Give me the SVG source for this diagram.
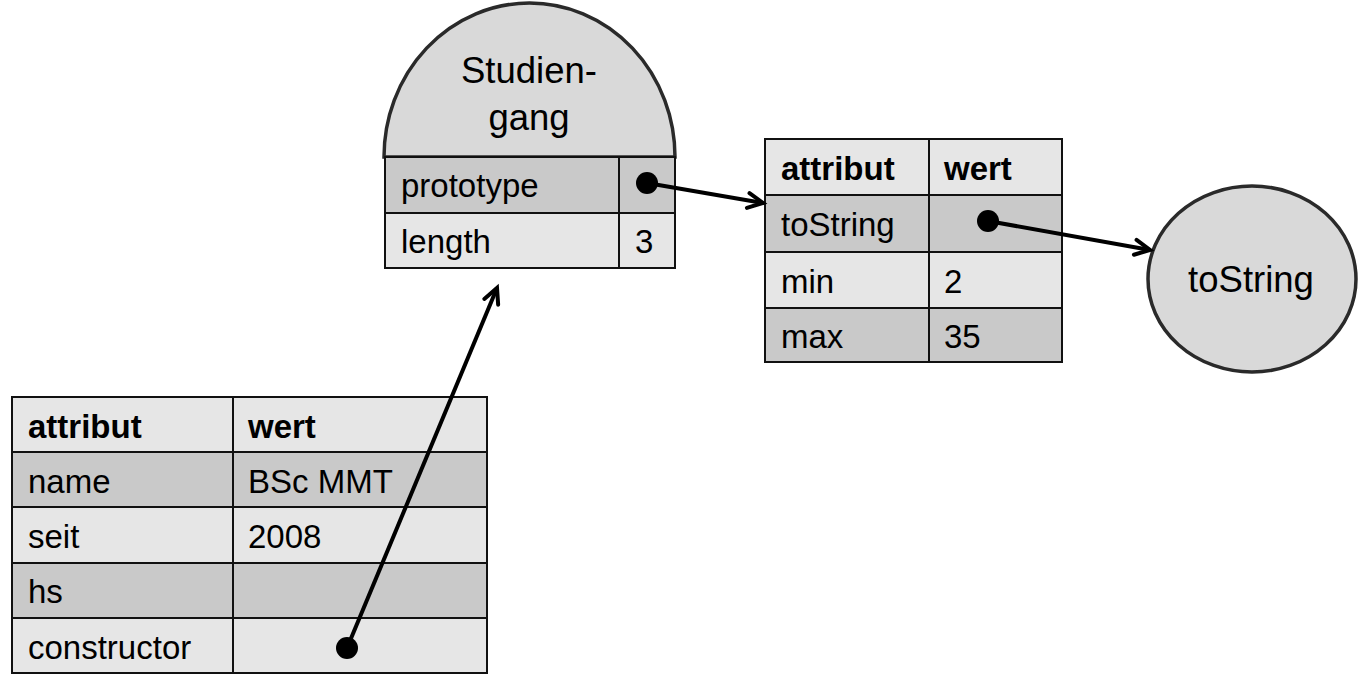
<svg xmlns="http://www.w3.org/2000/svg" width="1359" height="685" viewBox="0 0 1359 685">
<defs>
<style>
.t{font-family:"Liberation Sans",Arial,sans-serif;font-size:33px;fill:#000}
.b{font-weight:bold}
.big{font-family:"Liberation Sans",Arial,sans-serif;font-size:36.5px;fill:#000;text-anchor:middle}
.lt{fill:#e6e6e6;stroke:#111;stroke-width:2}
.dk{fill:#c9c9c9;stroke:#111;stroke-width:2}
.sh{fill:#d9d9d9;stroke:#2a2a2a;stroke-width:3.5}
.cn{stroke:#000;stroke-width:4;fill:none;marker-end:url(#arr)}
.dot{fill:#000}
</style>
<marker id="arr" markerUnits="userSpaceOnUse" markerWidth="30" markerHeight="30" refX="0" refY="0" viewBox="-20 -15 30 30" orient="auto" overflow="visible">
<path d="M-15,-7.5 L0,0 L-15,7.5" fill="none" stroke="#000" stroke-width="4" stroke-linecap="round" stroke-linejoin="miter"/>
</marker>
</defs>
<rect width="1359" height="685" fill="#fff"/>

<g id="studiengang">
<path class="sh" d="M384,157 A145.5,154 0 0 1 675,157 Z"/>
<text class="big" x="529" y="83">Studien-</text>
<text class="big" x="529" y="130">gang</text>
<rect class="dk" x="385" y="157" width="234" height="56"/>
<rect class="dk" x="619" y="157" width="56" height="56"/>
<rect class="lt" x="385" y="213" width="234" height="55"/>
<rect class="lt" x="619" y="213" width="56" height="55"/>
<text class="t" x="401" y="197">prototype</text>
<text class="t" x="401" y="253">length</text>
<text class="t" x="635" y="253">3</text>
</g>

<g id="prototype-table">
<rect class="lt" x="765" y="139" width="164" height="56"/>
<rect class="lt" x="929" y="139" width="133" height="56"/>
<rect class="dk" x="765" y="195" width="164" height="57"/>
<rect class="dk" x="929" y="195" width="133" height="57"/>
<rect class="lt" x="765" y="252" width="164" height="56"/>
<rect class="lt" x="929" y="252" width="133" height="56"/>
<rect class="dk" x="765" y="308" width="164" height="54"/>
<rect class="dk" x="929" y="308" width="133" height="54"/>
<text class="t b" x="781" y="180">attribut</text>
<text class="t b" x="944" y="180">wert</text>
<text class="t" x="781" y="236">toString</text>
<text class="t" x="781" y="293">min</text>
<text class="t" x="944" y="293">2</text>
<text class="t" x="781" y="348">max</text>
<text class="t" x="944" y="348">35</text>
</g>

<g id="tostring-fn">
<ellipse class="sh" cx="1252" cy="279" rx="104" ry="93"/>
<text class="big" x="1251" y="292">toString</text>
</g>

<g id="instance-table">
<rect class="lt" x="12" y="397" width="221" height="55"/>
<rect class="lt" x="233" y="397" width="254" height="55"/>
<rect class="dk" x="12" y="452" width="221" height="55"/>
<rect class="dk" x="233" y="452" width="254" height="55"/>
<rect class="lt" x="12" y="507" width="221" height="56"/>
<rect class="lt" x="233" y="507" width="254" height="56"/>
<rect class="dk" x="12" y="563" width="221" height="55"/>
<rect class="dk" x="233" y="563" width="254" height="55"/>
<rect class="lt" x="12" y="618" width="221" height="55"/>
<rect class="lt" x="233" y="618" width="254" height="55"/>
<text class="t b" x="28" y="438">attribut</text>
<text class="t b" x="248" y="438">wert</text>
<text class="t" x="28" y="493">name</text>
<text class="t" x="248" y="493">BSc MMT</text>
<text class="t" x="28" y="548">seit</text>
<text class="t" x="248" y="548">2008</text>
<text class="t" x="28" y="603">hs</text>
<text class="t" x="28" y="659">constructor</text>
</g>

<g id="connectors">
<line class="cn" x1="647" y1="183" x2="763" y2="203"/>
<circle class="dot" cx="647" cy="183" r="11"/>
<line class="cn" x1="988" y1="221" x2="1150" y2="250"/>
<circle class="dot" cx="988" cy="221" r="11"/>
<line class="cn" x1="347" y1="648" x2="497" y2="288"/>
<circle class="dot" cx="347" cy="648" r="11"/>
</g>
</svg>
